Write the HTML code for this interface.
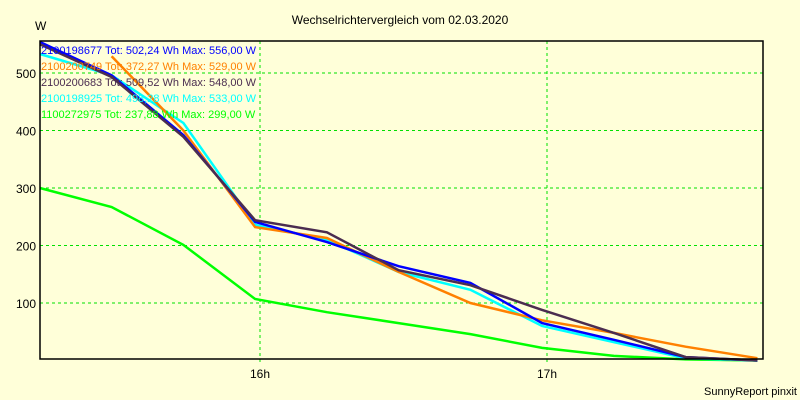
<!DOCTYPE html>
<html><head><meta charset="utf-8"><style>
body{margin:0;background:#ffffd9;}
svg{display:block;font-family:"Liberation Sans",sans-serif;}
</style></head><body>
<svg width="800" height="400">
<rect x="0" y="0" width="800" height="400" fill="#ffffd9"/>
<text x="400" y="24" text-anchor="middle" font-size="12">Wechselrichtervergleich vom 02.03.2020</text>
<text x="35" y="30" font-size="12">W</text>
<text x="797" y="395" text-anchor="end" font-size="11">SunnyReport pinxit</text>
<g id="grid"></g>
<g id="series"></g>
<g id="legend"></g>
<rect x="40" y="41" width="723" height="318" fill="none" stroke="#000" stroke-width="1.5"/>
</svg>
<script>
const yTicks=[100,200,300,400,500];
const xTickHours=[16,17];
const xTickLabels=["16h","17h"];
const times=[15.233,15.483,15.733,15.983,16.233,16.483,16.733,16.983,17.233,17.483,17.733];
const seriesNames=["2100198677 Tot: 502,24 Wh Max: 556,00 W","2100200749 Tot: 372,27 Wh Max: 529,00 W","2100200683 Tot: 509,52 Wh Max: 548,00 W","2100198925 Tot: 498,28 Wh Max: 533,00 W","1100272975 Tot: 237,88 Wh Max: 299,00 W"];
const seriesColors=["#0000ff","#ff8000","#4b2d50","#00ffff","#00ff00"];
const green=[300,267,201,107,84,65,46,22,8,2,0];
const blue=[554,496,392,241,206,164,135,65,36,6,0];
const orange=[null,529,400,232,213,154,100,70,48,24,4];
const purple=[550,493,389,244,223,157,131,88,48,6,0];
const cyan=[533,496,413,236,210,154,123,60,32,4,0];
const seriesData=[blue,orange,purple,cyan,green];
const drawOrder=[4,3,1,0,2];
const X=t=>260+(t-16)*287;
const Y=v=>360.5-v*0.575;
const NS="http://www.w3.org/2000/svg";
const grid=document.getElementById('grid');
const svg=document.querySelector('svg');
yTicks.forEach(v=>{
 const l=document.createElementNS(NS,'line');
 l.setAttribute('x1',40);l.setAttribute('x2',763);l.setAttribute('y1',Y(v));l.setAttribute('y2',Y(v));
 l.setAttribute('stroke','#00e000');l.setAttribute('stroke-dasharray','3,3');
 
 
 grid.appendChild(l);
 const t=document.createElementNS(NS,'text');
 t.setAttribute('x',36);t.setAttribute('y',Y(v)+5);t.setAttribute('text-anchor','end');t.setAttribute('font-size','12');
 t.textContent=v;
 
 
 grid.appendChild(t);
});
xTickHours.forEach((h,i)=>{
 const l=document.createElementNS(NS,'line');
 l.setAttribute('x1',X(h));l.setAttribute('x2',X(h));l.setAttribute('y1',41);l.setAttribute('y2',365);
 l.setAttribute('stroke','#00e000');l.setAttribute('stroke-dasharray','3,3');
 
 
 grid.appendChild(l);
 const t=document.createElementNS(NS,'text');
 t.setAttribute('x',X(h));t.setAttribute('y',378);t.setAttribute('text-anchor','middle');t.setAttribute('font-size','12');
 t.textContent=xTickLabels[i];
 
 
 grid.appendChild(t);
});
const sg=document.getElementById('series');
drawOrder.forEach(si=>{
 const pts=[];
 seriesData[si].forEach((v,i)=>{if(v!==null)pts.push(X(times[i]).toFixed(1)+','+Y(v).toFixed(1));});
 const p=document.createElementNS(NS,'polyline');
 p.setAttribute('points',pts.join(' '));
 p.setAttribute('fill','none');p.setAttribute('stroke',seriesColors[si]);p.setAttribute('stroke-width','2.5');
 
 
 sg.appendChild(p);
});
const lg=document.getElementById('legend');
seriesNames.forEach((n,i)=>{
 const t=document.createElementNS(NS,'text');
 t.setAttribute('x',41);t.setAttribute('y',54+i*16);t.setAttribute('font-size','11');t.setAttribute('fill',seriesColors[i]);
 t.textContent=n;
 
 
 lg.appendChild(t);
});
</script>
</body></html>
